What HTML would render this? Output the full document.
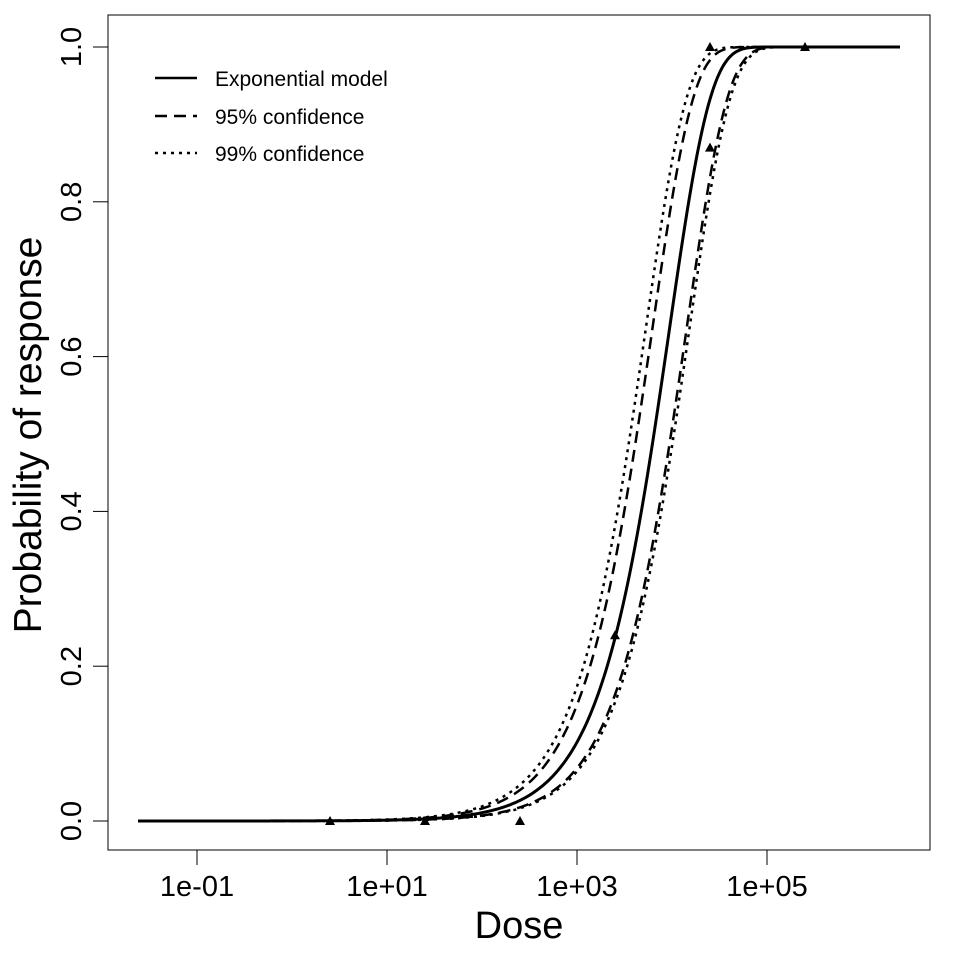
<!DOCTYPE html>
<html><head><meta charset="utf-8"><style>
body{margin:0;background:#fff}
svg{display:block;font-family:"Liberation Sans",Arial,sans-serif}
</style></head><body>
<svg id="s" width="960" height="960" viewBox="0 0 960 960">
<rect x="0" y="0" width="960" height="960" fill="#fff"/>
<rect x="108" y="15" width="822" height="835" fill="none" stroke="#000" stroke-width="1"/>
<g stroke="#000" stroke-width="1">
<line x1="197" y1="850" x2="767" y2="850"/>
<line x1="197" y1="850" x2="197" y2="865"/>
<line x1="387" y1="850" x2="387" y2="865"/>
<line x1="577" y1="850" x2="577" y2="865"/>
<line x1="767" y1="850" x2="767" y2="865"/>
<line x1="108" y1="821" x2="108" y2="47"/>
<line x1="93" y1="821" x2="108" y2="821"/>
<line x1="93" y1="666.2" x2="108" y2="666.2"/>
<line x1="93" y1="511.4" x2="108" y2="511.4"/>
<line x1="93" y1="356.6" x2="108" y2="356.6"/>
<line x1="93" y1="201.8" x2="108" y2="201.8"/>
<line x1="93" y1="47" x2="108" y2="47"/>
</g>
<g font-size="29" text-anchor="middle">
<text x="197" y="896">1e-01</text>
<text x="387" y="896">1e+01</text>
<text x="577" y="896">1e+03</text>
<text x="767" y="896">1e+05</text>
<text transform="translate(81,821) rotate(-90)">0.0</text>
<text transform="translate(81,666.2) rotate(-90)">0.2</text>
<text transform="translate(81,511.4) rotate(-90)">0.4</text>
<text transform="translate(81,356.6) rotate(-90)">0.6</text>
<text transform="translate(81,201.8) rotate(-90)">0.8</text>
<text transform="translate(81,47) rotate(-90)">1.0</text>
</g>
<text x="519" y="938" font-size="38" text-anchor="middle">Dose</text>
<text transform="translate(41,435) rotate(-90)" font-size="39" text-anchor="middle">Probability of response</text>
<g id="curves" fill="none" stroke="#000"></g>
<g id="pts"></g>
<g stroke="#000" stroke-width="2.5">
<line x1="155" y1="78" x2="197" y2="78"/>
<line x1="155" y1="116" x2="197" y2="116" stroke-dasharray="12,7"/>
<line x1="155" y1="153" x2="197" y2="153" stroke-dasharray="3,5"/>
</g>
<g font-size="21">
<text x="215" y="86">Exponential model</text>
<text x="215" y="124">95% confidence</text>
<text x="215" y="161">99% confidence</text>
</g>
</svg>
<script>
var X=function(l){return 197+(l+1)*95;},Y=function(p){return 821-p*774;};
function path(l50){var k=Math.LN2/Math.pow(10,l50),d="";
for(var l=-1.62;l<=6.4;l+=0.02){var p=1-Math.exp(-k*Math.pow(10,l));d+=(d?"L":"M")+X(l).toFixed(1)+","+Y(p).toFixed(1);}return d;}
var g=document.getElementById("curves");
[[3.81,"",3],[3.63,"12,7",2.5],[3.99,"12,7",2.5],[3.56,"3,5",2.5],[4.02,"3,5",2.5]].forEach(function(c){
var e=document.createElementNS("http://www.w3.org/2000/svg","path");e.setAttribute("d",path(c[0]));
e.setAttribute("stroke-width",c[2]);if(c[1])e.setAttribute("stroke-dasharray",c[1]);g.appendChild(e);});
var P=[[0.4,0],[1.4,0],[2.4,0],[3.4,0.24],[4.4,0.87],[4.4,1],[5.4,1]],h=document.getElementById("pts");
P.forEach(function(q){var x=X(q[0]),y=Y(q[1]);var e=document.createElementNS("http://www.w3.org/2000/svg","polygon");
e.setAttribute("points",(x-5)+","+(y+4)+" "+(x+5)+","+(y+4)+" "+x+","+(y-5));h.appendChild(e);});
</script>
</body></html>
